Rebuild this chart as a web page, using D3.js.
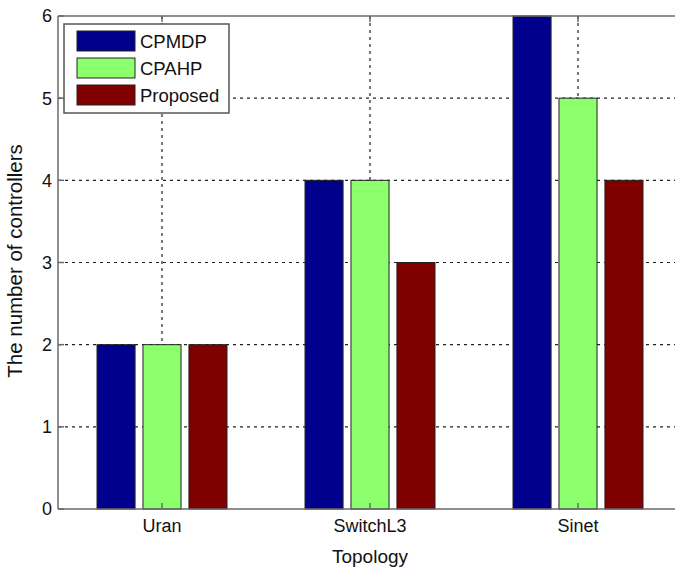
<!DOCTYPE html>
<html><head><meta charset="utf-8">
<script src="https://cdn.jsdelivr.net/npm/d3@7"></script>
<style>body{margin:0;background:#fff}svg{display:block}text{font-family:"Liberation Sans",Arial,sans-serif}</style>
</head><body>
<svg id="c" width="675" height="568"></svg>
<script>
const categories = ["Uran", "SwitchL3", "Sinet"];
const seriesNames = ["CPMDP", "CPAHP", "Proposed"];
const cpmdp = [2, 4, 6];
const cpahp = [2, 4, 5];
const proposed = [2, 3, 4];
const yTicks = [0, 1, 2, 3, 4, 5, 6];
const colors = ["#00008c", "#8cff6c", "#800000"];
const series = [cpmdp, cpahp, proposed];

(function () {
const svg = d3.select("#c");
const mL = 58, mT = 16, mB = 509, mR = 682;
const x = d3.scaleLinear().domain([0.5, 3.5]).range([mL, mR]);
const y = d3.scaleLinear().domain([0, 6]).range([mB, mT]);
const offset = 0.221, bw = 0.183;

// grid
const g = svg.append("g");
yTicks.slice(1, -1).forEach(t => {
  g.append("line").attr("x1", mL).attr("x2", mR).attr("y1", y(t)).attr("y2", y(t))
    .attr("stroke", "#222").attr("stroke-width", 1.2).attr("stroke-dasharray", "3,4");
});
categories.forEach((c, i) => {
  g.append("line").attr("x1", x(i + 1)).attr("x2", x(i + 1)).attr("y1", mT).attr("y2", mB)
    .attr("stroke", "#222").attr("stroke-width", 1.2).attr("stroke-dasharray", "3,4");
});

// bars
series.forEach((s, k) => {
  svg.append("g").selectAll("rect").data(s).join("rect")
    .attr("x", (d, i) => x(i + 1 + (k - 1) * offset - bw / 2))
    .attr("width", x(bw) - x(0))
    .attr("y", d => y(d))
    .attr("height", d => y(0) - y(d))
    .attr("fill", colors[k]).attr("stroke", "#222").attr("stroke-width", 1);
});

// axes
const ax = svg.append("g").attr("stroke", "#6a6a6a").attr("stroke-width", 1.5);
ax.append("line").attr("x1", mL).attr("x2", mR).attr("y1", mB).attr("y2", mB);
ax.append("line").attr("x1", mL).attr("x2", mR).attr("y1", mT).attr("y2", mT);
ax.append("line").attr("x1", mL).attr("x2", mL).attr("y1", mT).attr("y2", mB);
yTicks.forEach(t => {
  ax.append("line").attr("x1", mL).attr("x2", mL + 6).attr("y1", y(t)).attr("y2", y(t));
});
categories.forEach((c, i) => {
  ax.append("line").attr("x1", x(i + 1)).attr("x2", x(i + 1)).attr("y1", mB).attr("y2", mB - 6);
  ax.append("line").attr("x1", x(i + 1)).attr("x2", x(i + 1)).attr("y1", mT).attr("y2", mT + 6);
});

// tick labels
svg.append("g").selectAll("text").data(yTicks).join("text")
  .attr("x", mL - 6).attr("y", d => y(d)).attr("dy", "0.36em")
  .attr("text-anchor", "end").attr("font-size", 18).attr("fill", "#111").text(d => d);
svg.append("g").selectAll("text").data(categories).join("text")
  .attr("x", (d, i) => x(i + 1)).attr("y", 532)
  .attr("text-anchor", "middle").attr("font-size", 18).attr("fill", "#111").text(d => d);

svg.append("text").attr("x", x(2)).attr("y", 563).attr("text-anchor", "middle")
  .attr("font-size", 19).attr("fill", "#111").text("Topology");
svg.append("text").attr("transform", `translate(22,261) rotate(-90)`)
  .attr("text-anchor", "middle").attr("font-size", 20.5).attr("fill", "#111").text("The number of controllers");

// legend
const lg = svg.append("g");
lg.append("rect").attr("x", 64).attr("y", 24).attr("width", 165).attr("height", 89)
  .attr("fill", "#fff").attr("stroke", "#555").attr("stroke-width", 1.5);
seriesNames.forEach((n, k) => {
  lg.append("rect").attr("x", 77).attr("y", 31 + k * 27).attr("width", 58).attr("height", 20)
    .attr("fill", colors[k]).attr("stroke", "#222").attr("stroke-width", 1);
  lg.append("text").attr("x", 140).attr("y", 48 + k * 27)
    .attr("font-size", 18.5).attr("fill", "#111").text(n);
});
})();
</script>
</body></html>
